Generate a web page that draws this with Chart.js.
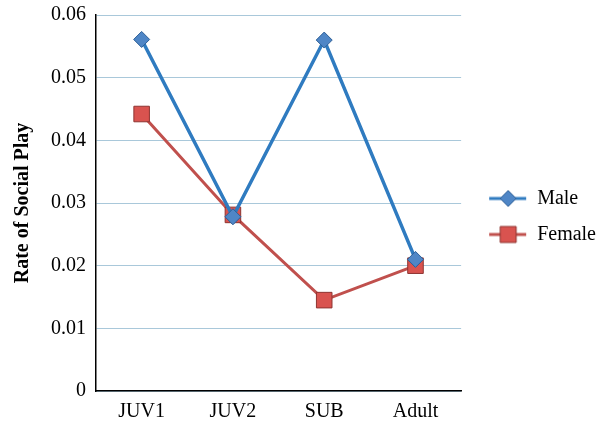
<!DOCTYPE html>
<html>
<head>
<meta charset="utf-8">
<script src="https://cdn.jsdelivr.net/npm/chart.js@4/dist/chart.umd.min.js"></script>
<style>
  html, body { margin: 0; padding: 0; background: #fff; }
  #wrap { width: 603px; height: 426px; }
</style>
</head>
<body>
<div id="wrap"><canvas id="chart"></canvas></div>
<script>
const stages = ['JUV1', 'JUV2', 'SUB', 'Adult'];
const maleRate = [0.0561, 0.0278, 0.0560, 0.0210];
const femaleRate = [0.0442, 0.0281, 0.0145, 0.0200];
const yTicks = [0, 0.01, 0.02, 0.03, 0.04, 0.05, 0.06];

const serif = "'Liberation Serif', 'Times New Roman', serif";

// line-through-marker swatch for the legend (blank strip on the left)
function legendSwatch(color, fill, border, shape) {
    const c = document.createElement('canvas');
    c.width = 50; c.height = 20;
    const g = c.getContext('2d');
    g.strokeStyle = color;
    g.lineWidth = 3;
    g.beginPath(); g.moveTo(12, 10); g.lineTo(49, 10); g.stroke();
    g.fillStyle = fill;
    g.strokeStyle = border;
    g.lineWidth = 1;
    g.beginPath();
    if (shape === 'diamond') {
        g.moveTo(31, 2); g.lineTo(39, 10); g.lineTo(31, 18); g.lineTo(23, 10); g.closePath();
    } else {
        g.rect(23, 2, 16, 16);
    }
    g.fill(); g.stroke();
    return c;
}

const maleSwatch = legendSwatch('#2f7bc0', '#4f86c6', '#2d5f97', 'diamond');
const femaleSwatch = legendSwatch('#c0504d', '#d9534f', '#8e3431', 'square');

new Chart(document.getElementById('chart'), {
    type: 'line',
    data: {
        labels: stages,
        datasets: [{
            label: 'Male',
            data: maleRate,
            borderColor: '#2f7bc0',
            borderWidth: 3.5,
            pointStyle: 'rectRot',
            pointRadius: 8,
            pointBackgroundColor: '#4f86c6',
            pointBorderColor: '#2d5f97',
            pointBorderWidth: 1,
            tension: 0
        }, {
            label: 'Female',
            data: femaleRate,
            borderColor: '#c0504d',
            borderWidth: 3,
            pointStyle: 'rect',
            pointRadius: 11,
            pointBackgroundColor: '#d9534f',
            pointBorderColor: '#8e3431',
            pointBorderWidth: 1,
            tension: 0
        }]
    },
    options: {
        responsive: true,
        maintainAspectRatio: false,
        animation: false,
        layout: { padding: { top: 0, right: -3, bottom: -7, left: 7 } },
        plugins: {
            tooltip: { enabled: false },
            legend: {
                position: 'right',
                labels: {
                    usePointStyle: true,
                    pointStyleWidth: 50,
                    boxHeight: 22,
                    padding: 16,
                    color: '#000',
                    font: { family: serif, size: 20 },
                    generateLabels: function(chart) {
                        return chart.data.datasets.map((ds, i) => ({
                            text: ds.label,
                            pointStyle: i === 0 ? maleSwatch : femaleSwatch,
                            fillStyle: ds.borderColor,
                            strokeStyle: ds.borderColor,
                            lineWidth: 0,
                            datasetIndex: i,
                            fontColor: '#000'
                        }));
                    }
                }
            }
        },
        scales: {
            x: {
                offset: true,
                grid: { display: false, drawTicks: false },
                border: { color: '#000', width: 1.5 },
                ticks: { color: '#000', font: { family: serif, size: 20 }, padding: 9 }
            },
            y: {
                min: 0,
                max: 0.06,
                afterBuildTicks: function(axis) {
                    axis.ticks = yTicks.map(v => ({ value: v }));
                },
                // let the plot start closer to the top edge
                afterFit: function(axis) {
                    axis.paddingTop = 15;
                },
                grid: { color: '#a9c8da', lineWidth: 1, drawTicks: false },
                border: { color: '#000', width: 1.5 },
                ticks: {
                    color: '#000',
                    padding: 10,
                    font: { family: serif, size: 20 },
                    callback: v => v === 0 ? '0' : v.toFixed(2)
                },
                title: {
                    display: true,
                    text: 'Rate of Social Play',
                    color: '#000',
                    font: { family: serif, size: 20, weight: 'bold' },
                    padding: { bottom: 6 }
                }
            }
        }
    }
});
</script>
</body>
</html>
